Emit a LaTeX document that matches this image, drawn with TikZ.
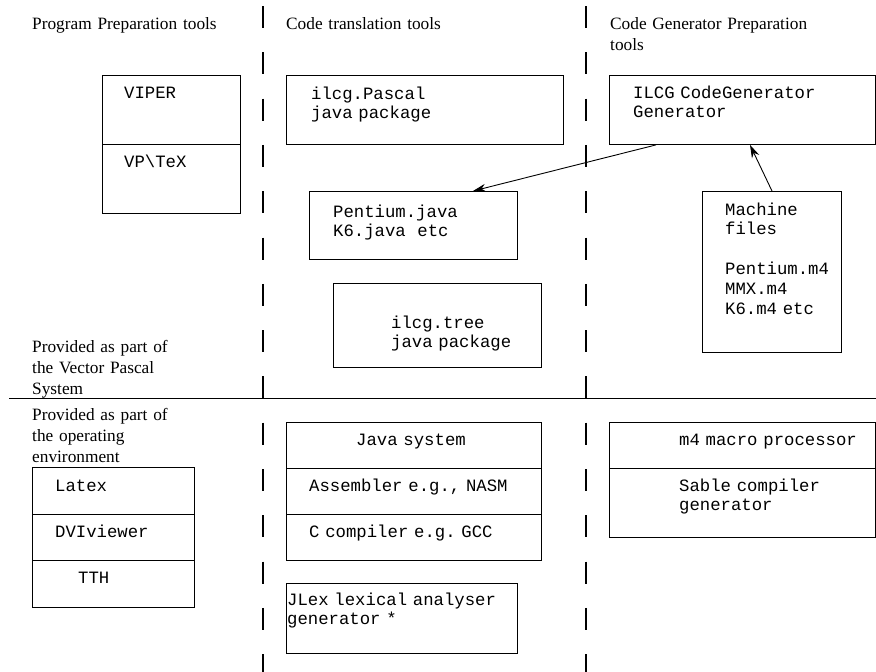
\documentclass[tikz,border=0pt]{standalone}
\usepackage{fontspec}
\setmainfont{Liberation Serif}
\setmonofont{Liberation Mono}[WordSpace={1,0,0}]
\usepackage{tikz}
\usetikzlibrary{positioning,arrows.meta}
\newcommand\cdfont{\fontsize{17.3}{19.8}\selectfont\ttfamily\frenchspacing
  \spaceskip=10.4pt\relax\xspaceskip=10.4pt\relax}
\tikzset{blk/.style={draw,line width=0.9pt,inner sep=0,anchor=north west},
  hd/.style={inner sep=0,anchor=base west,text width=260pt,font=\fontsize{17.3}{21}\selectfont},
  cd/.style={inner sep=0,anchor=base west,text width=260pt,font=\cdfont}}

\begin{document}
\begin{tikzpicture}[x=1pt,y=-1pt,>={Stealth[length=13pt,width=8pt]}]
        \useasboundingbox (0,0) rectangle (876,672);
        % column headings
        \node[hd] (h1) at (32,29) {Program Preparation tools};
        \node[hd] (h2) at (286,29) {Code translation tools};
        \node[hd] (h3) at (610,29) {Code Generator Preparation\\tools};
        \node[hd] (vps) at (32,352) {Provided as part of\\the Vector Pascal\\System};
        \node[hd] (env) at (32,420) {Provided as part of\\the operating\\environment};

        % dividers
        \draw [line width=1.2pt,dash pattern=on 22pt off 24.3pt] (263,6) -- (263,672);
        \draw [line width=1.2pt,dash pattern=on 22pt off 24.3pt] (586,6) -- (586,672);
        \draw [line width=0.9pt] (9,398) -- (876,398);

        % upper half
        \node[blk,minimum width=138pt,minimum height=69pt] (viper) at (102,75) {};
        \node[blk,minimum width=138pt,minimum height=69pt] (vptex) at (102,144) {};
        \node[blk,minimum width=277pt,minimum height=69pt] (pascal) at (286,75) {};
        \node[blk,minimum width=208pt,minimum height=68pt] (pent) at (309,191) {};
        \node[blk,minimum width=208pt,minimum height=84pt] (tree) at (333,283) {};
        \node[blk,minimum width=266pt,minimum height=69pt] (cgg) at (609,75) {};
        \node[blk,minimum width=139pt,minimum height=161pt] (mach) at (702,191) {};

        \node[cd] (viper-t) at (124,98) {VIPER};
        \node[cd] (vptex-t) at (124,167) {VP\textbackslash TeX};
        \node[cd] (pascal-t) at (311,99) {ilcg.Pascal\\java package};
        \node[cd] (pent-t) at (333,217) {Pentium.java\\K6.java~~etc};
        \node[cd] (tree-t) at (391,328) {ilcg.tree\\java package};
        \node[cd] (cgg-t) at (633,98) {ILCG CodeGenerator\\Generator};
        \node[cd] (mach-t) at (725,215) {Machine\\files\\[19.8pt]Pentium.m4\\MMX.m4\\K6.m4 etc};

        \draw [->,line width=0.9pt] ([xshift=47pt]cgg.south west) to ([xshift=164pt]pent.north west);
        \draw [->,line width=0.9pt] ([xshift=70pt]mach.north west) to ([xshift=141pt]cgg.south west);

        % lower half
        \node[blk,minimum width=162pt,minimum height=47pt] (latex) at (32,467) {};
        \node[blk,minimum width=162pt,minimum height=46pt] (dvi) at (32,514) {};
        \node[blk,minimum width=162pt,minimum height=47pt] (tth) at (32,560) {};
        \node[blk,minimum width=255pt,minimum height=46pt] (java) at (286,422) {};
        \node[blk,minimum width=255pt,minimum height=46pt] (asm) at (286,468) {};
        \node[blk,minimum width=255pt,minimum height=46pt] (gcc) at (286,514) {};
        \node[blk,minimum width=231pt,minimum height=70pt] (jlex) at (286,583) {};
        \node[blk,minimum width=266pt,minimum height=46pt] (m4) at (609,422) {};
        \node[blk,minimum width=266pt,minimum height=69pt] (sable) at (609,468) {};

        \node[cd] (latex-t) at (55,491) {Latex};
        \node[cd] (dvi-t) at (55,537) {DVIviewer};
        \node[cd] (tth-t) at (78,583) {TTH};
        \node[cd] (java-t) at (356,445) {Java system};
        \node[cd] (asm-t) at (309,491) {Assembler e.g., NASM};
        \node[cd] (gcc-t) at (309,537) {C compiler e.g. GCC};
        \node[cd] (jlex-t) at (287,605) {JLex lexical analyser\\generator *};
        \node[cd] (m4-t) at (679,445) {m4 macro processor};
        \node[cd] (sable-t) at (679,491) {Sable compiler\\generator};
    \end{tikzpicture}
\end{document}
